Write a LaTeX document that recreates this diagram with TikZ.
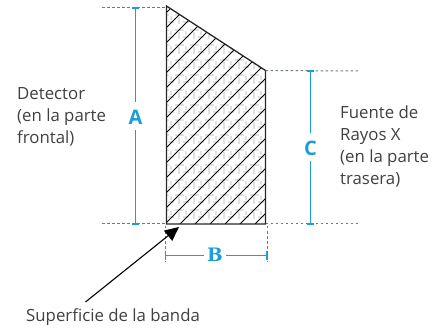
\documentclass[tikz,border=0pt]{standalone}
\usepackage{fontspec}
\usetikzlibrary{arrows.meta}
\setmainfont{Open Sans}
\newfontfamily\slabfont{DejaVu Serif}
\definecolor{dimblue}{HTML}{1B9DD9}
\definecolor{dotgrey}{HTML}{6E7B85}
\definecolor{patgrey}{HTML}{E0E2E0}
\tikzset{
  guide/.style={dotgrey,line width=1pt,dash pattern=on 2.5pt off 2.5pt},
  dimline/.style={dimblue,line width=1.2pt},
  dimlabel/.style={text=dimblue,font=\fontsize{20}{20}\selectfont\bfseries,inner sep=0pt},
  note/.style={text=black!75,font=\fontsize{16.8}{22.2}\selectfont,align=left,anchor=base west,inner sep=0pt},
}
\begin{document}
\begin{tikzpicture}[x=1pt,y=-1pt]
\useasboundingbox (0,0) rectangle (447,331);
\coordinate (P1) at (166.5,6);
\coordinate (P2) at (265.5,70.5);
\coordinate (P3) at (265.5,224);
\coordinate (P4) at (166.5,224);
\begin{scope}
\clip (P1) -- (P2) -- (P3) -- (P4) -- cycle;
\foreach \i in {0,...,7}{\foreach \j in {0,...,16}{
  \pgfmathsetmacro{\px}{160+15*\i}\pgfmathsetmacro{\py}{0+15*\j}
  \draw[patgrey,line width=1.4pt] (\px,\py) -- +(9,0) (\px+4,\py+2) -- +(0,7) (\px+8,\py+7) -- +(6,0) (\px+11,\py+1) -- +(0,4);
}}
\foreach \k in {-16,...,8}{
  \pgfmathsetmacro{\sx}{180+15*\k}
  \draw[black,line width=1pt] (\sx,224) -- +(240,-240);
}
\end{scope}
\draw[black!85,line width=1.3pt,line join=miter] (P1) -- (P2) -- (P3) -- (P4) -- cycle;
% guides
\coordinate (GA) at (102,8);
\coordinate (GB) at (102,224);
\coordinate (GC) at (359,224);
\coordinate (GD) at (359,71);
\coordinate (TL) at (166,8);
\draw[guide] (GA) -- (TL);
\draw[guide] (P2) -- (GD);
\draw[guide] (GB) -- (P4);
\draw[guide] (P3) -- (GC);
\coordinate (GE) at (165.5,262);
\coordinate (GF) at (267,262);
\coordinate (GE0) at (165.5,226);
\coordinate (GF0) at (267,226);
\draw[guide] (GE0) -- (GE);
\draw[guide] (GF0) -- (GF);
% dims
\node[dimlabel] (A) at (135.5,117) {A};
\node[dimlabel,font=\fontsize{18.5}{18.5}\selectfont\slabfont\bfseries] (B) at (215,255) {B};
\node[dimlabel] (C) at (310.5,148) {C};
\coordinate (A1) at (135.5,8); \coordinate (A2) at (135.5,224);
\coordinate (C1) at (310.5,71); \coordinate (C2) at (310.5,224);
\coordinate (B1) at (165.5,255.5); \coordinate (B2) at (267,255.5);
\draw[dimline] (A1) -- (135.5,102) (135.5,130) -- (A2);
\draw[dimline] (132,8) -- (139,8);
\draw[dimline] (132,224) -- (139,224);
\draw[dimline] (C1) -- (310.5,133) (310.5,161) -- (C2);
\draw[dimline] (307,71) -- (314,71) (307,224) -- (314,224);
\draw[dimline] (B1) -- (204,255.5) (226,255.5) -- (B2);
\draw[dimline] (165.5,251) -- (165.5,260) (267,251) -- (267,260);
% arrow
\coordinate (ArrowStart) at (85.5,302);
\coordinate (ArrowEnd) at (179,227);
\draw[black,line width=1.1pt,-{Triangle[length=14pt,width=13pt]}] (ArrowStart) -- (ArrowEnd);
% labels
\node[note] (det) at (17,143.5) {Detector\\(en la parte\\frontal)};
\node[note] (src) at (340,185) {Fuente de\\Rayos X\\(en la parte\\trasera)};
\node[note] (sup) at (26,321) {Superficie de la banda};
\end{tikzpicture}
\end{document}
